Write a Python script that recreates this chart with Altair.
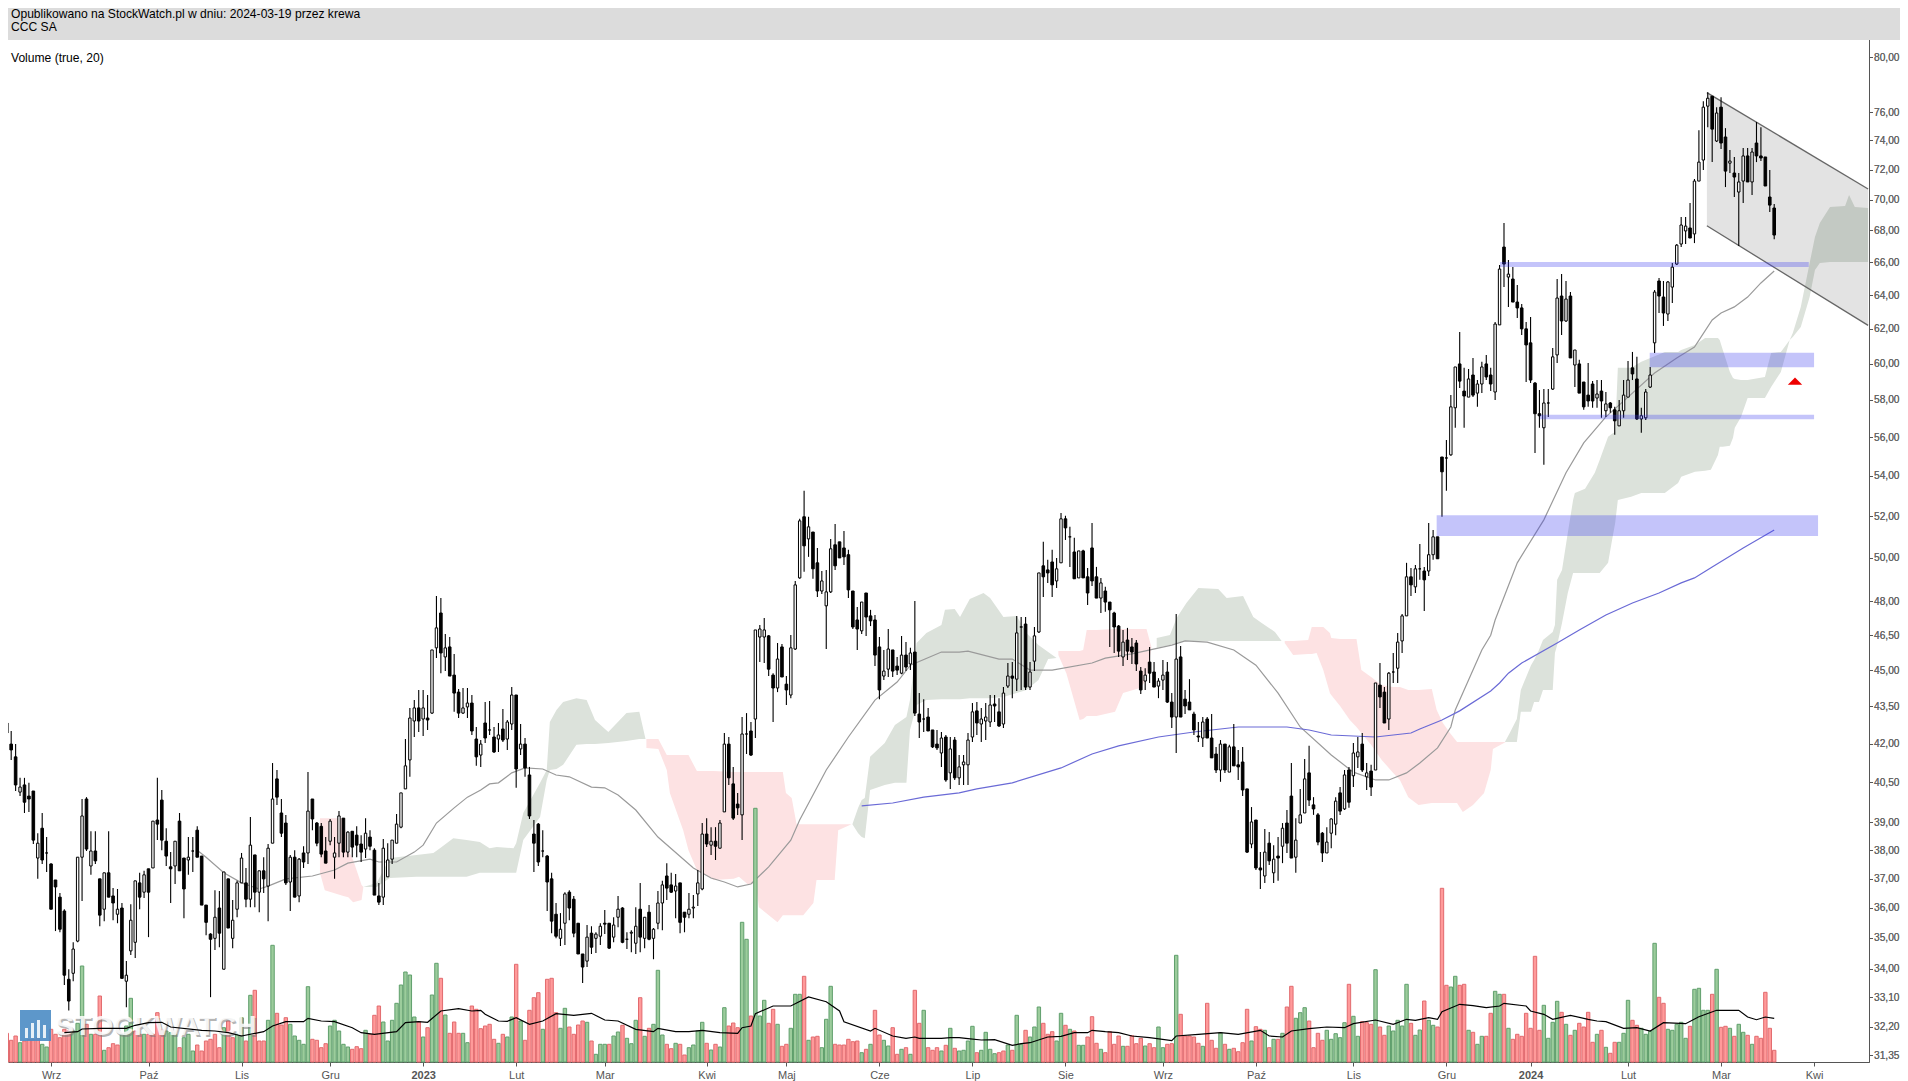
import altair as alt
import pandas as pd

# ---------- candles: value, index = trading session ----------
highs = [
44.09,42.82,42.50,41.98,40.67,40.67,40.48,40.17,38.61,39.35,
38.47,37.54,36.95,36.50,35.95,33.98,34.85,37.75,39.87,39.94,
38.68,38.68,36.99,37.20,38.68,36.67,36.64,36.16,34.24,36.12,
36.92,37.20,37.27,37.34,39.05,40.67,40.21,38.79,37.93,38.32,
39.35,37.72,38.47,38.47,38.86,37.79,36.09,35.15,36.60,36.57,
37.23,36.99,36.26,36.92,37.90,37.37,39.20,37.83,37.27,37.75,
38.22,41.24,40.97,39.87,39.28,37.83,38.00,37.72,38.14,40.89,
39.87,39.02,38.98,38.47,39.13,38.47,39.42,39.16,38.68,38.68,
38.86,38.54,39.16,38.72,38.07,36.85,38.40,38.25,38.36,39.31,
40.10,42.18,43.43,43.75,44.17,44.17,43.96,45.86,48.24,48.15,
46.55,46.42,45.69,44.21,44.25,44.25,43.96,42.66,42.14,43.67,
43.71,42.66,42.82,43.39,42.94,44.29,43.96,42.78,42.22,41.09,
39.09,38.98,38.72,37.83,37.20,36.16,35.82,36.53,36.60,36.40,
35.48,34.47,35.42,35.38,35.18,35.48,35.92,35.48,35.68,36.40,
36.02,35.18,35.25,36.02,36.85,35.68,36.09,35.32,36.57,36.92,
37.54,37.20,37.16,36.85,35.85,36.50,36.43,37.30,38.98,39.16,
38.83,38.83,39.09,42.42,42.26,41.09,40.10,43.06,43.22,42.86,
46.73,46.95,47.26,46.51,44.87,46.16,46.12,44.75,46.51,48.93,
51.87,53.25,51.97,51.23,50.47,49.39,49.44,50.90,51.62,50.76,
51.28,50.38,48.47,47.75,47.97,48.38,47.62,47.39,46.42,45.86,
46.77,45.86,45.56,46.47,46.20,45.95,48.02,44.04,43.79,43.43,
42.54,42.54,42.46,42.34,42.26,42.26,41.55,41.55,42.42,43.63,
43.67,43.43,43.63,43.96,43.96,43.83,44.29,45.30,45.34,47.35,
47.30,47.30,45.34,46.86,49.30,50.76,49.91,50.38,50.00,52.16,
52.02,51.48,50.95,50.33,50.38,49.53,51.67,49.58,49.07,48.66,
47.97,47.53,46.95,46.73,46.82,46.38,46.29,45.13,45.08,45.99,
45.34,44.66,45.43,45.34,44.04,47.44,46.03,44.17,44.62,43.27,
42.86,43.06,43.06,43.18,41.87,42.14,41.98,41.95,42.78,41.75,
41.87,40.25,39.57,39.09,37.93,38.76,38.65,38.18,38.47,38.98,
39.46,41.24,39.16,40.25,41.40,41.91,39.94,39.35,38.65,38.83,
39.16,39.94,40.32,40.97,41.09,42.02,42.26,42.42,41.24,41.17,
44.46,45.30,44.29,44.92,45.73,46.60,47.44,49.77,49.53,49.67,
50.66,49.58,51.67,51.33,51.00,54.97,55.86,58.26,59.82,61.82,
59.77,59.71,60.33,59.09,60.11,60.50,59.77,62.40,65.83,68.48,
66.14,65.70,64.60,63.46,62.40,62.70,58.98,58.54,58.59,58.59,
60.89,64.97,65.27,64.85,64.18,60.78,60.22,58.98,60.05,59.03,
59.09,59.09,58.43,57.88,57.62,57.99,59.09,60.16,60.67,60.39,
57.57,58.59,59.82,64.30,65.03,64.85,64.85,65.95,67.14,68.87,
68.87,69.77,71.37,74.72,76.78,77.43,77.14,76.35,77.07,74.86,
73.34,72.86,71.77,73.48,73.48,73.48,75.29,74.93,72.86,71.97,
69.71]

body_high = [
43.59,42.82,41.98,41.48,40.32,40.40,39.98,40.17,38.25,38.79,
37.90,37.51,36.95,36.36,35.89,33.66,34.63,37.75,39.24,39.87,
37.97,37.97,36.99,37.20,37.20,36.40,35.95,35.99,33.79,35.58,
36.92,36.85,37.13,37.34,39.05,39.09,39.83,38.32,37.41,38.32,
39.05,37.72,37.75,37.97,38.72,37.79,36.09,35.12,35.68,35.99,
37.23,36.99,35.58,36.85,37.72,36.85,38.18,37.83,37.27,37.27,
38.07,39.87,40.63,39.35,38.98,37.75,37.75,37.68,37.90,39.42,
39.87,38.98,38.86,37.97,39.05,37.90,39.24,39.16,38.65,38.68,
38.54,38.22,38.61,38.47,38.00,36.40,38.07,37.65,38.36,38.94,
40.10,41.13,43.02,43.43,43.43,43.43,43.02,45.86,46.82,47.48,
45.95,45.99,44.79,44.08,43.43,43.63,43.63,42.18,41.98,42.82,
42.54,42.26,42.34,42.58,42.86,43.96,43.96,41.98,41.98,40.78,
38.58,38.94,37.97,37.79,36.99,35.78,35.28,36.47,36.53,36.29,
35.48,34.47,35.02,35.15,35.12,35.38,35.48,35.48,35.42,35.95,
35.99,34.95,35.18,35.38,35.95,35.68,35.85,35.28,36.16,36.78,
37.09,36.78,36.74,36.85,35.85,35.95,36.02,36.85,38.58,38.58,
38.32,38.32,38.98,41.98,41.98,40.44,39.68,42.38,42.38,42.50,
46.73,46.77,46.73,46.47,44.79,45.47,45.99,44.41,45.95,48.75,
51.77,51.97,51.48,51.23,49.77,48.93,48.43,50.43,50.62,50.76,
50.47,50.15,48.47,47.17,47.97,48.38,47.35,47.17,45.99,44.96,
45.90,45.86,45.17,45.64,45.64,45.73,45.77,43.18,42.98,43.06,
42.54,41.98,42.22,42.26,41.79,42.14,41.09,41.28,42.14,43.27,
43.31,42.98,43.06,43.55,43.59,43.27,44.04,44.75,44.75,46.60,
46.86,46.99,44.92,46.47,49.30,49.63,49.44,49.81,49.49,51.87,
51.87,51.00,50.28,50.33,50.33,49.12,50.47,49.12,48.84,48.47,
47.97,47.48,46.90,46.20,46.29,45.99,46.16,44.96,44.79,45.34,
44.92,44.54,44.79,44.92,43.67,45.47,45.56,43.79,43.67,43.18,
42.30,42.86,42.98,42.22,41.59,41.98,41.98,41.87,41.87,41.17,
41.28,40.25,39.02,39.09,37.37,37.93,38.25,37.68,37.79,38.79,
38.98,39.98,38.36,39.28,40.63,40.86,39.65,39.28,38.61,38.29,
39.13,39.79,40.10,40.78,40.97,41.63,41.67,41.98,40.86,40.93,
44.46,44.37,44.08,44.87,44.92,46.20,47.35,49.12,49.12,49.49,
49.49,49.39,50.15,51.00,51.00,54.97,54.92,57.62,59.82,59.99,
58.48,59.15,59.37,58.87,59.82,59.99,59.37,62.28,65.58,66.95,
65.27,64.97,63.58,63.23,62.00,61.19,58.92,57.25,57.83,57.83,
60.39,63.82,63.94,63.76,63.94,60.78,59.99,58.98,58.26,58.87,
58.32,58.48,57.78,57.83,57.46,57.41,58.26,59.09,59.77,59.15,
57.14,58.43,59.37,64.18,64.85,63.88,64.79,65.70,67.07,68.35,
68.28,68.16,71.23,72.51,76.35,76.99,77.14,75.93,76.35,74.24,
72.58,71.77,71.17,72.93,72.93,73.20,73.82,72.93,72.86,70.17,
69.45]

body_low = [
42.22,42.42,41.75,40.40,40.13,39.75,39.87,38.36,37.72,37.65,
37.90,35.95,36.71,35.28,33.79,32.98,33.85,34.89,37.75,38.04,
37.44,37.62,35.75,35.95,36.36,36.16,35.78,33.69,33.60,34.57,
34.85,36.36,36.53,36.53,37.37,38.94,38.36,37.79,37.34,37.44,
37.27,36.64,37.65,37.97,37.75,36.09,35.51,34.95,34.98,35.15,
33.98,35.32,34.98,35.95,36.85,36.29,36.29,36.53,36.53,36.99,
36.74,38.25,39.94,38.61,36.85,36.88,36.36,36.40,37.58,37.90,
39.13,38.25,37.86,37.54,38.32,37.75,38.25,37.93,37.93,38.11,
38.18,37.93,38.04,38.14,36.43,36.19,36.36,37.06,37.68,38.25,
38.83,40.25,41.36,42.90,42.90,42.98,42.94,43.22,45.95,45.73,
45.56,44.75,44.04,43.22,43.22,43.47,42.50,41.48,41.55,42.22,
42.54,41.67,42.18,42.14,42.18,42.78,41.01,41.79,41.05,39.24,
38.25,37.58,37.97,36.88,35.55,35.05,34.98,35.48,35.99,35.15,
34.47,34.05,34.24,34.69,34.98,35.05,35.45,34.66,35.02,35.68,
34.85,34.95,35.15,34.82,35.02,34.98,34.95,34.98,35.48,36.16,
36.67,36.53,36.57,35.51,35.68,35.78,35.99,36.47,36.64,38.22,
38.18,38.14,38.07,39.39,40.67,39.16,39.54,39.28,42.38,41.55,
42.98,46.42,46.42,45.04,44.25,44.25,44.71,44.17,43.96,45.90,
49.07,50.57,50.90,49.49,48.47,48.47,47.80,48.43,49.63,50.00,
50.05,48.52,46.86,46.77,46.69,47.30,47.13,45.64,44.17,44.75,
45.04,44.96,45.00,44.87,45.13,45.26,43.22,42.86,42.98,42.50,
41.87,41.83,41.63,40.59,40.86,40.67,40.67,41.17,41.17,42.26,
42.82,42.78,42.90,42.86,43.51,42.70,42.78,44.33,44.66,44.62,
46.86,44.29,44.29,45.38,46.64,49.12,49.30,48.75,48.93,49.77,
51.43,51.00,49.03,49.07,49.07,48.38,48.93,48.15,48.15,47.97,
47.62,46.86,45.81,45.56,45.81,45.77,45.26,44.17,44.54,44.87,
44.29,44.33,44.58,43.67,43.06,43.06,43.06,43.51,43.35,42.54,
42.26,42.22,42.22,41.44,40.97,40.97,40.97,40.89,41.13,41.09,
40.21,37.93,38.22,37.37,37.30,37.09,37.62,37.20,37.72,38.14,
38.25,37.72,37.75,38.98,39.35,39.83,39.50,38.29,37.90,37.90,
38.61,38.94,39.42,39.50,39.75,40.75,41.48,40.97,40.71,40.32,
40.97,43.88,42.82,42.98,44.92,45.08,46.25,47.35,48.75,48.66,
49.49,48.98,49.39,50.15,49.96,54.21,54.92,55.08,57.57,59.03,
58.21,58.15,58.26,58.37,58.87,59.26,58.87,58.43,62.23,65.89,
65.09,63.58,63.23,62.00,61.07,59.09,57.25,57.14,56.50,57.83,
58.59,60.50,62.46,62.46,60.33,59.93,58.37,57.62,57.94,57.94,
58.10,57.94,57.41,57.57,56.87,56.60,57.41,58.15,59.43,56.97,
56.97,57.03,58.70,61.19,63.94,62.93,62.87,64.48,65.89,67.14,
67.97,67.52,67.78,71.23,72.65,76.42,74.79,73.96,73.82,71.90,
72.44,71.50,70.50,71.23,71.17,71.17,72.93,72.79,70.90,69.64,
67.71]

lows = [
42.14,41.48,41.36,40.17,39.98,39.35,39.39,38.22,36.99,37.51,
37.23,35.95,35.22,35.18,33.48,32.69,33.60,34.85,36.23,37.97,
37.13,37.51,35.38,35.55,36.36,35.58,35.48,33.69,32.79,34.44,
34.34,35.95,36.33,35.02,37.37,38.36,38.00,37.44,36.16,36.81,
37.27,35.65,37.13,37.23,37.75,36.09,35.08,33.10,34.60,34.69,
33.98,35.32,34.66,35.68,36.85,36.02,36.02,36.02,35.85,36.50,
35.55,38.25,39.65,38.47,36.78,35.89,36.36,36.19,37.37,37.51,
38.72,38.14,37.75,37.54,38.18,36.99,37.75,37.75,37.75,37.75,
37.75,37.58,37.72,38.00,36.43,36.09,36.09,37.06,37.51,38.25,
38.79,40.25,40.71,42.26,42.46,42.30,42.54,43.18,45.51,44.87,
44.96,44.75,43.27,43.02,43.18,43.02,42.34,41.13,41.09,42.02,
42.34,41.63,41.67,42.06,41.75,42.54,40.29,41.55,40.71,39.13,
37.23,37.44,37.75,35.89,35.15,34.98,34.73,34.76,35.58,35.02,
34.47,33.54,34.05,34.47,34.50,34.76,35.12,34.63,34.85,35.35,
34.82,34.63,34.53,34.47,34.53,34.66,34.92,34.30,35.28,35.25,
36.26,36.50,35.65,35.15,35.18,35.65,35.65,36.06,36.60,38.11,
37.83,37.65,38.07,39.39,40.40,39.09,39.28,38.36,41.59,41.51,
42.22,45.34,45.30,44.75,42.86,44.08,44.71,43.55,43.83,45.86,
49.03,49.35,50.05,49.03,48.20,48.33,45.90,48.38,49.44,50.00,
49.67,48.15,46.77,45.86,46.55,46.47,46.90,45.17,43.79,44.58,
44.71,44.71,44.79,44.83,44.96,45.00,43.10,42.22,42.46,42.50,
41.83,41.75,41.09,40.52,40.25,40.59,40.40,40.40,40.40,42.06,
42.34,42.06,42.14,42.66,42.86,42.66,42.62,44.25,43.83,44.13,
44.17,44.17,44.17,44.96,46.60,48.20,48.84,48.20,48.61,49.77,
50.85,49.58,49.03,49.07,49.07,47.84,48.70,48.15,47.48,47.53,
45.99,45.73,45.56,45.17,45.43,45.26,44.96,44.00,44.17,44.46,
44.29,43.83,44.17,43.63,42.62,41.63,43.06,43.18,43.35,42.34,
42.06,41.87,42.22,41.44,40.86,40.52,40.86,40.89,41.13,40.59,
39.98,37.90,38.07,37.30,36.64,36.85,37.47,36.85,36.92,37.54,
37.90,37.72,37.20,38.98,39.35,39.61,39.28,38.18,37.58,37.90,
38.07,38.54,39.28,39.46,39.54,40.32,41.05,40.89,40.21,39.98,
40.97,43.43,42.82,42.54,44.46,44.46,45.73,47.35,48.24,48.38,
48.98,47.57,49.16,49.91,49.96,51.97,53.25,55.03,56.50,58.65,
56.50,58.15,58.15,57.62,58.37,59.09,58.48,57.99,62.23,64.48,
63.29,63.58,62.64,61.65,58.98,58.92,55.18,56.50,54.57,57.08,
58.54,60.05,61.65,62.40,60.33,58.70,58.37,57.46,57.62,57.57,
57.57,57.03,57.08,57.30,56.13,56.60,57.03,58.15,59.09,56.92,
56.23,56.92,58.65,60.61,62.93,62.17,62.46,63.52,65.83,66.95,
67.14,67.52,67.20,71.23,71.97,74.93,72.51,73.89,73.41,70.83,
71.77,70.17,67.01,69.77,71.17,70.30,72.51,72.58,70.90,69.19,
67.45]

candle_dir = (
"DDDDUDDDUD" "UDDDDDUUUD" "UDDUDDUDUU" "UDUDUDDDDU" "DDUUDDDDUD"
"UDUUUDUDUD" "UUDDDUDUDU" "DDDDUUUDUD" "DDUDDDUUUU" "UUUUDUDUUD"
"UDDDUUDDUD" "UDUDUUDUDD" "DDUDDDUUDD" "DDUDUUDDUU" "DDUUDUDUUU"
"DDUDDUUUUD" "UDUUDDDUUD" "UUUDDUDDUU" "UDUDDUUUDD" "DDDDUDDDDU"
"UDDUDUDDUD" "DDUDUDUUUU" "DUUUDDUUDU" "DDUUUDDDUU" "DDDUDDDDUD"
"DDDUDDDDUD" "DUUDDUDDDD" "DUDDDUDUDD" "DDUDDUDUDU" "DDUUUDDDDU"
"UUDUDUUDUD" "UDDUUUUUDU" "UDUUDDDUUD" "DUDUUDDUUD" "UDDDDDDDUU"
"UUDUDUDDDD" "UDUDDUUUDD" "UUUUDDUUUU" "UDUUUUDUDD" "UDUUDUDDDD"
"D")

# ---------- volume (arbitrary units) and its colour per session ----------
volume = [
29.3,28.7,21.7,26,19.3,21,22.7,22.7,24.3,17.7,
15,32.7,27.7,24.3,32.7,31,31,38.7,96,37.7,
27.7,27.7,66,11.7,14.3,18.3,17,27.7,36,63.7,
31,27.7,27.7,27.7,27.7,49.3,32.7,31,29.3,27.7,
14.3,24.3,27.7,11,17,11,21,22.7,27.7,14.3,
34.3,41,24.3,27.7,44.3,21,66.7,71.7,21,21,
41.7,116.7,48.7,37,44.3,37.7,26,21.7,17.7,75.3,
22.7,21.7,14.3,18.3,36,41.7,31,17.7,15,12.7,
15.3,13.3,31.7,27.7,46.7,56,40,21,41.7,58.7,
77,90,87,45,40.3,25,34.3,67,98.7,83.7,
47,28.7,40,28.7,28.7,19.3,56,52.7,33.3,36,
37.7,22.7,18.7,27.7,25,45,97.7,41,21.7,51.7,
64.3,69.3,32.7,82.7,83.7,49.3,33.7,53.7,35,27.7,
37,41,39.7,21,7.7,17.7,17.7,17.7,26,30,
36.7,23.7,18.3,41.7,64.3,25.7,33.7,37.7,91.7,27,
17.7,13.3,18.7,17.7,7,14.3,17,31,39.7,18.7,
12,17.7,15,54.3,36,39,34.3,139.7,122.7,46,
253.7,46,61.7,38.7,52.7,37.7,15.7,17.7,33.7,67.7,
67.7,85.7,21.7,25,25.7,14.3,42.7,75.7,17.7,17,
17,22.7,20.3,21,9.3,12.7,17.7,51.7,27,21.7,
16,34.3,7.7,12.7,14.3,7.7,71.7,38.7,51.7,14.3,
11.7,14.3,11,16.7,33.7,13.7,11,11.7,21,35.7,
9.3,11.7,29.7,12.7,8.3,9.3,11,17,11.7,46.7,
17.7,31.7,25,35,55,38.7,27.7,30.3,21,48.7,
36.7,32.7,31,16.7,16.7,25,45.3,18.7,12.7,9.3,
30.3,17.7,26,15.7,15.7,26.3,18.3,23.7,16,18.3,
14.3,35,14.3,17.7,18.3,106.7,47.7,26,26,25,
18.7,15.7,58.7,21.7,13.7,29.3,17.7,12.7,13.7,10.3,
19.3,52.7,21,35.3,32.7,31.7,14.3,22.7,22.7,28.7,
55,75.7,43.7,49.3,54.3,41,14.3,28.7,21.7,31.7,
22.7,28.3,24.3,39.3,77.7,45.7,25.7,40.3,39.3,37.7,
92.3,35,26.7,36,31,41.7,36,77.7,38.7,26.7,
32,61,41.7,36.7,35,173.7,76.7,75,85.7,76.7,
77.7,31.7,29.7,17.7,25.7,25.7,48.7,70.7,67.7,67.7,
33.7,22.7,27.7,25.7,48.7,33.7,105.7,31.7,56.7,23.7,
39.7,60.7,49.7,37.7,26.7,31.7,38.7,35,49.7,19.7,
27.7,31.7,14.7,8.7,19.7,19.7,28.7,61.7,41.7,36.7,
33.7,27.7,30.7,118.7,64.7,58.7,32.7,31.7,37.7,39.7,
23.7,35.7,72.7,73.7,51.7,51.7,67.7,92.7,34.7,35.7,
33.7,25.7,37.7,29.7,26.7,17.7,25.7,23.7,69.7,33.7,
11.7]

volume_dir = (
"RRRRGRRRRG" "GRRRRRGGGR" "GRRGRRRGGG" "RRGRRRRGGG" "RGGGRRRRRR"
"GRRGGRGRRR" "GGRRRGGGGG" "RRRRGGGGGR" "RRGRRRGGGG" "GGGGRGRGGR"
"GRRRGGRRRR" "RRGRGGRGRR" "RRGRRRGGRR" "RRGRGGGRGG" "RGGGRGRGGG"
"RRGRRGGGGR" "GRGGRRRGGR" "GGGRRGRRGG" "GRGRRGGGRR" "RRRRGRGRRG"
"GRRGRGRRGR" "RRGRGRGGGG" "RGGGGRRGRG" "GRGGGRRRGG" "RGRGGRRRGR"
"RRRGRRRRGR" "RGGRRGRRRR" "RGRRRGRGRR" "RRGRRGRGRG" "RRGGGRRRRG"
"GGGGRGGRRR" "GRRGGGGGRG" "GRGGRRRGGR" "RGRGGRRGGR" "GRRRRRRRGG"
"GGRGRGRRRR" "GRGRRGGGRR" "GGGGRRGGGG" "GRGGGGRGRR" "GRGGRGRRRR"
"R")

vol_ma_i = [14,17,18,22,28,30,33,36,38,45,48,51,54,59,61,64,68,69,72,75,79,81,84,89,91,94,96,99,103,106,108,
109,112,114,116,119,122,125,129,133,136,139,143,147,148,152,155,158,162,166,167,169,170,174,178,182,186,189,190,196,197,201,204,206,207,212,214,216,
218,221,224,228,230,232,236,239,242,245,246,249,252,255,259,264,265,270,275,279,284,286,289,291,295,299,303,305,310,314,317,319,322,
324,325,329,332,335,338,339,344,345,348,350,354,358,360,362,366,369,372,375,380,383,387,392,394,396,398,400]
vol_ma_v = [29.3,30.3,33,33.7,33.7,36.7,39.3,39.7,35,31.7,31,29.3,26,30.3,36,40.3,40.3,43.7,41,40.3,34.3,29.3,27.7,30.3,39.3,40.3,39.7,51,53.3,51,51.7,
47.7,41,40.7,44.3,37.7,41,48.3,46.7,48.7,42,41,32.7,30.3,33.7,30.3,30.3,31.7,29.3,28.7,34.3,36,48.3,56,56,65,60.3,51,40.3,31,33.7,26,23.7,25,23.7,23.7,24.3,24.3,
23.3,22,22.3,16.7,18.3,19.3,25,25.7,29.3,29.3,31.7,30.3,29.3,26,24.3,21.3,26,27.7,29.3,27.7,31.7,26,25,31,33.3,35,34.3,38.3,42,37.7,42.7,41.7,44.3,
42.7,50.3,57.7,56.3,54.3,56,58.7,56,51,47.7,42.7,46.7,42.7,41,40.3,33.7,34.3,31,39.3,38.3,45.3,51.7,51.7,45,42.3,45,43.7]

# ---------- moving averages ----------
sma_grey_i = [44,46,50,54,58,60,64,70,75,78,83,85,89,93,95,98,102,105,108,110,112,115,118,122,125,128,133,136,139,143,148,156,160,163,166,169,173,178,180,186,191,197,202,205,212,216,218,225,228,232,237,246,249,255,264,267,272,278,283,288,293,300,305,310,313,317,320,324,327,328,331,334,336,337,342,348,353,357,362,367,373,378,382,386,388,391,394,397,400]
sma_grey_v = [38.00,37.75,37.20,36.85,36.64,36.74,36.99,37.09,37.30,37.54,37.68,37.58,37.58,37.93,38.18,38.98,39.54,39.94,40.21,40.44,40.48,40.86,41.05,41.01,40.78,40.71,40.32,40.29,40.02,39.46,38.47,37.37,37.02,36.88,36.71,36.81,37.41,38.36,39.09,40.97,42.26,43.75,44.50,45.21,45.77,45.77,45.81,45.47,45.47,45.00,45.00,45.30,45.51,45.69,46.07,46.25,46.20,45.86,45.21,44.04,42.66,41.55,40.89,40.59,40.59,40.86,41.24,41.83,42.66,43.35,44.58,45.86,46.50,47.17,49.77,51.82,54.16,55.70,57.08,58.15,59.48,60.33,60.95,62.52,62.93,63.29,63.88,64.73,65.46]

sma_blue_i = [194,201,208,216,220,228,239,246,252,261,269,279,290,295,300,310,318,320,325,329,336,338,340,343,351,356,362,368,374,379,382,386,393,400]
sma_blue_v = [39.61,39.72,39.94,40.10,40.25,40.48,41.05,41.59,41.91,42.26,42.46,42.66,42.66,42.54,42.34,42.26,42.42,42.58,42.94,43.31,44.13,44.46,44.87,45.30,46.16,46.73,47.39,47.93,48.38,48.84,49.07,49.58,50.47,51.33]

# ---------- ichimoku cloud, segment by segment ----------
p1_i = [71.7,72.8,77,78.1,79.2,81.1,81.5]
p1_t = [39.16,39.16,39.16,38.00,37.65,36.78,36.71]
p1_b = [37.20,36.60,36.40,36.36,36.19,36.26,36.71]

g1_i = [81.5,84.5,87.5,93.5,97.3,98.8,101.8,104.8,107.8,110,111.6,115.4,116,117.6,121.4,122.9,123.6,125.1,126.6,129.6,131.9,133.8,136.8,140.9,143.8,145.2]
g1_t = [36.71,36.85,37.72,37.83,37.90,38.07,38.43,38.36,38.29,38.07,38.11,38.07,38.25,39.35,40.48,40.97,42.86,43.35,43.67,43.83,43.75,42.94,42.46,43.22,43.27,42.18]
g1_b = [36.71,36.71,37.02,37.06,37.06,37.06,37.06,37.06,37.20,37.20,37.20,37.20,37.20,38.36,39.20,40.59,40.97,41.01,41.17,41.95,41.98,41.98,42.02,42.10,42.18,42.18]

p2_i = [145.4,148.1,150,150.7,153.7,154.9,156.8,160.6,165.1,166.3,168.2,170.1,170.8,175,176.2,176.9,178.2,179.3,180.8,183.1,183.8,187.9,188.7,191.7]
p2_t = [42.18,42.18,41.55,41.55,41.55,41.55,40.93,40.93,40.89,40.89,40.89,40.89,40.89,40.89,40.89,40.10,39.91,38.94,38.94,38.94,38.94,38.94,38.94,38.94]
p2_b = [41.83,41.79,40.97,40.10,38.72,38.00,37.30,36.95,36.99,37.06,36.81,36.81,36.02,35.51,35.75,35.75,35.75,35.75,35.75,36.16,36.95,36.95,38.72,38.94]

g2_i = [191.9,193.2,194,194.7,195.9,199.2,201.5,204.1,204.9,206.4,208.6,212,212.8,215,216.2,218.4,221.5,223,226,229,231.2,233.9,236.1,238]
g2_t = [38.94,39.54,39.83,39.91,41.48,42.02,42.74,43.06,43.75,46.16,46.60,46.95,47.62,47.66,47.30,48.11,48.38,48.15,47.30,47.35,46.60,46.07,45.77,45.51]
g2_b = [38.94,38.61,38.47,38.43,40.21,40.40,40.48,40.48,42.54,43.55,43.75,43.79,43.79,43.79,43.79,43.83,43.83,43.83,43.88,44.04,44.17,44.58,45.47,45.51]

p3_i = [238.4,240.2,243.2,244,244.8,247,251.2,253,256.8,258.3,259.4]
p3_t = [45.81,45.81,45.81,45.86,46.73,46.73,46.77,46.77,46.77,46.77,45.99]
p3_b = [45.64,44.87,42.94,42.98,43.10,43.10,43.27,44.04,44.25,44.58,45.95]

g3_i = [260.6,263.6,265.1,267.3,270,274.5,276.4,280.1,282.4,284.3,287.3,288.8]
g3_t = [46.38,46.51,47.26,47.93,48.61,48.56,48.15,48.24,47.30,47.04,46.64,46.25]
g3_b = [45.95,46.07,46.16,46.25,46.25,46.25,46.25,46.25,46.25,46.25,46.25,46.25]

p4_i = [289.5,291.4,294.8,295.6,296.7,298.2,299.7,300,302,304.2,305.7,306.8,309,311.4,314,315.5,317.4,319.7,322.7,323.8,325.2,326.8,328.4,329.7,332,334.5,336,336.5,339.4]
p4_t = [46.25,46.25,46.29,46.86,46.86,46.86,46.60,46.38,46.33,46.33,46.33,45.00,44.71,44.37,44.29,44.29,44.17,44.17,44.21,43.35,42.82,42.42,42.06,42.06,42.06,42.06,42.06,42.06,42.06]
p4_b = [46.16,45.64,45.69,45.69,45.73,45.00,44.04,43.96,43.51,42.94,42.66,42.42,41.95,41.36,40.86,40.59,39.94,39.65,39.72,39.72,39.72,39.72,39.72,39.39,39.65,40.10,40.97,41.79,42.06]

g4_i = [339.2,340.3,341.9,342.8,345.1,345.8,346.9,347.8,350,350.5,351,352.1,353.4,354.6,355,357.3,359.5,360.6,362.5,363.4,364.1,364.7,367.7,370,375.3,378.3,379,382.1,384.4,385.7,387.3,387.7,388.4,390,390.7,391.1,392.5,394,397.9,399.3,401.5,403.5,404.2,406,408,409.2,410.3,412.6,416,416.9,418.2,421.2]
g4_t = [42.06,42.42,42.98,44.17,45.21,45.43,45.86,46.29,46.64,46.95,48.98,49.44,51.18,52.79,53.14,53.35,54.16,54.82,56.02,56.18,56.28,59.77,59.77,60.11,60.67,60.67,60.78,61.07,61.47,61.47,61.47,61.36,60.78,59.54,59.20,59.15,59.09,59.09,59.26,60.61,60.67,61.36,61.76,63.29,65.95,67.58,68.48,69.52,69.58,70.30,69.52,69.45]
g4_b = [42.06,42.06,42.06,43.27,43.27,43.67,43.67,44.17,44.17,45.73,46.07,47.04,48.38,49.30,49.30,49.30,49.30,49.30,49.77,50.85,51.67,52.79,52.95,53.14,53.14,53.65,53.96,54.21,54.26,54.31,55.08,55.50,55.50,55.55,55.97,56.50,57.08,58.10,58.10,58.70,59.54,61.36,61.53,62.11,63.88,65.52,65.95,66.01,66.01,66.01,66.01,66.01]

# ---------- drawn objects ----------
band_start = [338.1,371.9,347.1,323.8]
band_end = [407.8,409.0,409.0,409.9]
band_top = [66.02,60.62,57.2,52.05]
band_bot = [65.70,59.80,56.96,51.04]

channel_i = [384.8,421.2]
channel_top = [77.4,70.7]
channel_bot = [68.3,62.2]

signal_i = [404.7]
signal_v = [59.03]

# ---------- axes ----------
x_ticks = [11,33,54,74,95,116,136,159,177,198,219,240,262,283,305,326,345,367,388,409]
x_labels = ["Wrz","Paź","Lis","Gru","2023","Lut","Mar","Kwi","Maj","Cze","Lip","Sie","Wrz","Paź","Lis","Gru","2024","Lut","Mar","Kwi"]
y_ticks = [80,76,74,72,70,68,66,64,62,60,58,56,54,52,50,48,46.5,45,43.5,42,40.5,39,38,37,36,35,34,33.1,32.2,31.35]

FONT = "Liberation Sans"
label_expr = "{" + ",".join(f"'{t}':'{l}'" for t, l in zip(x_ticks, x_labels)) + "}[datum.value]"
x_axis = alt.Axis(values=x_ticks, labelExpr=label_expr, title=None, grid=False, domainColor="#555555",
                  tickColor="#555555", tickSize=4, labelFont=FONT, labelFontSize=11, labelColor="#555555",
                  labelPadding=3, labelFlush=False, labelOverlap=False,
                  labelFontWeight={"expr": "datum.value==95||datum.value==345?'bold':'normal'"})
y_axis = alt.Axis(values=y_ticks, orient="right", title=None, grid=False, domainColor="#555555",
                  tickColor="#555555", tickSize=3.5, labelFont=FONT, labelFontSize=10.2, labelColor="#666666",
                  labelPadding=1, labelOverlap=False, labelFlush=False,
                  labelExpr="replace(format(datum.value,'.2f'),'.',',')")
x_scale = alt.Scale(domain=[1.28, 421.4], nice=False, zero=False, padding=0)
y_scale = alt.Scale(type="log", domain=[31.145, 83.8], nice=False)
X = alt.X("i:Q", scale=x_scale, axis=x_axis)
Y = lambda f: alt.Y(f, scale=y_scale, axis=y_axis)

candles = pd.DataFrame({"i": range(len(highs)), "h": highs, "t": body_high, "b": body_low, "l": lows,
                        "d": list(candle_dir), "vol": volume, "vd": list(volume_dir)})

# clouds
segments = [("p1", p1_i, p1_t, p1_b, "#fde2e3"), ("g1", g1_i, g1_t, g1_b, "#dce2db"),
            ("p2", p2_i, p2_t, p2_b, "#fde2e3"), ("g2", g2_i, g2_t, g2_b, "#dce2db"),
            ("p3", p3_i, p3_t, p3_b, "#fde2e3"), ("g3", g3_i, g3_t, g3_b, "#dce2db"),
            ("p4", p4_i, p4_t, p4_b, "#fde2e3"), ("g4", g4_i, g4_t, g4_b, "#dce2db")]
cloud_layers = [
    alt.Chart(pd.DataFrame({"i": si, "t": st, "b": sb})).mark_area(color=col, orient="vertical", opacity=1)
    .encode(x=X, y=Y("t:Q"), y2="b:Q")
    for _, si, st, sb, col in segments
]

chan_df = pd.DataFrame({"i": channel_i, "t": channel_top, "b": channel_bot})
channel_fill = alt.Chart(chan_df).mark_area(color="#000000", opacity=0.11, orient="vertical").encode(x=X, y=Y("t:Q"), y2="b:Q")
channel_top_line = alt.Chart(chan_df).mark_line(color="#666666", strokeWidth=1.3).encode(x=X, y=Y("t:Q"))
channel_bot_line = alt.Chart(chan_df).mark_line(color="#666666", strokeWidth=1.3).encode(x=X, y=Y("b:Q"))

grey_line = alt.Chart(pd.DataFrame({"i": sma_grey_i, "v": sma_grey_v})).mark_line(color="#9a9a9a", strokeWidth=1.2).encode(x=X, y=Y("v:Q"))
blue_line = alt.Chart(pd.DataFrame({"i": sma_blue_i, "v": sma_blue_v})).mark_line(color="#6a6ad6", strokeWidth=1.2).encode(x=X, y=Y("v:Q"))

wicks = alt.Chart(candles).mark_rule(color="#000000", strokeWidth=1.1).encode(x=X, y=Y("h:Q"), y2="l:Q")
up_bodies = alt.Chart(candles).transform_filter("datum.d=='U'").mark_bar(size=2.4, fill="#ffffff", stroke="#000000", strokeWidth=1, orient="vertical").encode(x=X, y=Y("t:Q"), y2="b:Q")
down_bodies = alt.Chart(candles).transform_filter("datum.d=='D'").mark_bar(size=2.6, fill="#000000", stroke="#000000", strokeWidth=1, orient="vertical").encode(x=X, y=Y("t:Q"), y2="b:Q")

bands = alt.Chart(pd.DataFrame({"i": band_start, "e": band_end, "t": band_top, "b": band_bot})).mark_rect(color="#3c3cf0", opacity=0.3).encode(x=X, x2="e:Q", y=Y("t:Q"), y2="b:Q")

signal = alt.Chart(pd.DataFrame({"i": signal_i, "v": signal_v})).mark_point(
    shape="M-1,0.5L1,0.5L0,-0.5Z", size=207, filled=True, color="#ee0000", opacity=1, strokeWidth=0
).encode(x=X, y=Y("v:Q"))

price_part = alt.layer(*cloud_layers, channel_fill, channel_top_line, channel_bot_line, grey_line, blue_line)
candle_part = alt.layer(wicks, up_bodies, down_bodies, bands, signal)

# volume on its own unseen scale
vol_scale = alt.Scale(domain=[0, 1054], nice=False, zero=True)
vol_y = alt.Y("vol:Q", scale=vol_scale, axis=None, stack=None)
vol_green = alt.Chart(candles).transform_filter("datum.vd=='G'").mark_bar(size=3.4, fill="#9ccc9c", stroke="#5f9f6c", strokeWidth=1, orient="vertical").encode(x=X, y=vol_y)
vol_red = alt.Chart(candles).transform_filter("datum.vd=='R'").mark_bar(size=3.4, fill="#ff9a9a", stroke="#e26a6e", strokeWidth=1, orient="vertical").encode(x=X, y=vol_y)
vol_ma = alt.Chart(pd.DataFrame({"i": vol_ma_i, "vol": vol_ma_v})).mark_line(color="#000000", strokeWidth=1.2).encode(x=X, y=vol_y)


def px_rect(x0, x1, y0, y1, color, opacity=1.0):
    return alt.Chart(pd.DataFrame({"a": [0]})).mark_rect(color=color, opacity=opacity).encode(
        x=alt.value(x0), x2=alt.value(x1), y=alt.value(y0), y2=alt.value(y1))


def px_text(s, x, y, **kw):
    return alt.Chart(pd.DataFrame({"s": [s]})).mark_text(align="left", baseline="middle", font=FONT, **kw).encode(
        x=alt.value(x), y=alt.value(y), text="s:N")


# watermark
wm = [px_rect(12, 43, 1002, 1033, "#4b8cc4", 0.9)]
for bx, top in zip([17, 23, 29, 35], [1020, 1015, 1012, 1017]):
    wm.append(px_rect(bx, bx + 3, top, 1030, "#ffffff", 0.85))
wm.append(px_text("STOCKWATCH", 48.5, 1019.5, fontSize=28.5, fontWeight="bold", color="#7a7a7a", opacity=0.55))
wm.append(px_text("STOCKWATCH", 47, 1018, fontSize=28.5, fontWeight="bold", color="#ffffff", opacity=0.85))

header = px_rect(-8, 1892, -8, 32, "#dcdcdc")
texts = [
    px_text("Opublikowano na StockWatch.pl w dniu: 2024-03-19 przez krewa", 3, 5.5, fontSize=12.1, color="#000000"),
    px_text("CCC SA", 3, 19, fontSize=12.1, color="#000000"),
    px_text("Volume (true, 20)", 3, 49.5, fontSize=12.1, color="#000000"),
]

volume_part = alt.layer(vol_green, vol_red, *wm, vol_ma)

chart = alt.layer(price_part, volume_part, candle_part, header, *texts).resolve_scale(y="independent").properties(
    width=1861, height=1054,
    padding={"left": 0, "top": 0, "right": 31, "bottom": 19},
    autosize=alt.AutoSizeParams(type="none"),
    background="#ffffff",
).configure_view(stroke=None)

chart.save("out.html", embed_options={"renderer": "svg", "actions": False})
